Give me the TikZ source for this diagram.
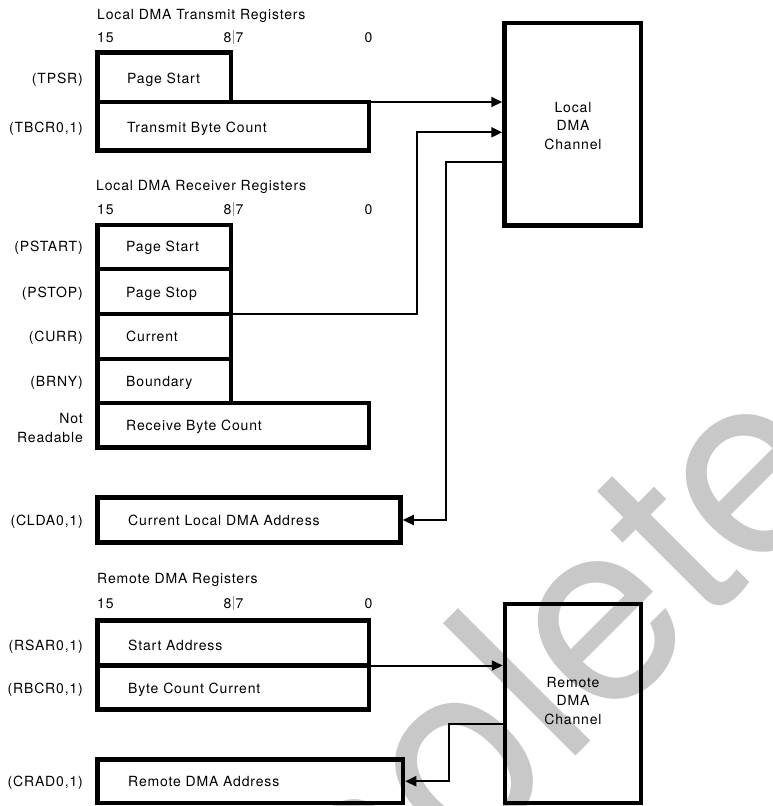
\documentclass[tikz,border=0pt]{standalone}
\usepackage{fontspec}
\setmainfont{TeX Gyre Heros}
\newfontfamily\dfont[LetterSpace=6]{TeX Gyre Heros}
\newfontfamily\wmfont{TeX Gyre Heros}
\usetikzlibrary{arrows.meta}
\definecolor{wmgray}{RGB}{200,200,200}
\definecolor{bargray}{RGB}{150,150,150}
\begin{document}
\begin{tikzpicture}[x=1pt,y=-1pt,
  reg/.style={draw, line width=4.5pt, inner sep=0pt, outer sep=0pt},
  tgt/.style={draw, line width=4.5pt, inner sep=0pt, outer sep=2.25pt},
  chan/.style={draw, line width=4.5pt, inner sep=0pt, outer sep=2.25pt},
  txt/.style={font=\dfont\fontsize{14}{17}\selectfont, inner sep=0pt, text height=10pt, text depth=0pt},
  ctxt/.style={font=\dfont\fontsize{14}{18.5}\selectfont, inner sep=0pt, align=center},
  bar/.style={draw=bargray, line width=0.8pt},
  arr/.style={line width=2pt, -{Triangle[length=11pt,width=10pt]}},
  wmark/.style={font=\wmfont\fontsize{257}{257}\selectfont, text=wmgray, inner sep=0pt, rotate=45, anchor=base west}
]
\useasboundingbox (0,0) rectangle (772,806);
\begin{scope}
  \clip (0,0) rectangle (772,806);
  \node[wmark] (wm) at (129,1203) {Obsolete};
\end{scope}

% ---------- Local DMA Transmit Registers
\node[txt, anchor=west] (tt) at (97,14) {Local DMA Transmit Registers};
\node[txt, anchor=west] (ta15) at (97,37) {15};
\node[txt, anchor=east] (ta8) at (231.5,37) {8};
\node[txt, anchor=west] (ta7) at (235.5,37) {7};
\node[txt] (ta0) at (368.5,37) {0};
\draw[bar] (233.5,30) -- (233.5,44);

\node[reg, minimum width=133.5pt, minimum height=49.5pt] (tpsr) at (164.25,77.25) {};
\node[reg, minimum width=271.5pt, minimum height=48.5pt] (tbcr) at (233.25,126.25) {};
\node[txt, anchor=east] (ltpsr) at (83,78) {(TPSR)};
\node[txt, anchor=east] (ltbcr) at (83,127) {(TBCR0,1)};
\node[txt, anchor=west] (xtpsr) at (127,78) {Page Start};
\node[txt, anchor=west] (xtbcr) at (127,127) {Transmit Byte Count};

% ---------- Local DMA Receiver Registers
\node[txt, anchor=west] (rt) at (96,185) {Local DMA Receiver Registers};
\node[txt, anchor=west] (ra15) at (97,209) {15};
\node[txt, anchor=east] (ra8) at (231.5,209) {8};
\node[txt, anchor=west] (ra7) at (235.5,209) {7};
\node[txt] (ra0) at (368.5,209) {0};
\draw[bar] (233.5,202) -- (233.5,216);

\node[reg, minimum width=133.5pt, minimum height=44pt] (pstart) at (164.25,247) {};
\node[reg, minimum width=133.5pt, minimum height=45pt] (pstop) at (164.25,291.5) {};
\node[reg, minimum width=133.5pt, minimum height=45pt] (curr) at (164.25,336.5) {};
\node[reg, minimum width=133.5pt, minimum height=44pt] (brny) at (164.25,381) {};
\node[reg, minimum width=271.5pt, minimum height=44.5pt] (rbc) at (233.25,425.25) {};
\node[txt, anchor=east] (lpstart) at (83,246) {(PSTART)};
\node[txt, anchor=east] (lpstop) at (83,292) {(PSTOP)};
\node[txt, anchor=east] (lcurr) at (83,336) {(CURR)};
\node[txt, anchor=east] (lbrny) at (83,381) {(BRNY)};
\node[txt, anchor=east] (lnot) at (83,418) {Not};
\node[txt, anchor=east] (lread) at (83,437) {Readable};
\node[txt, anchor=west] (xpstart) at (126,246) {Page Start};
\node[txt, anchor=west] (xpstop) at (126,292) {Page Stop};
\node[txt, anchor=west] (xcurr) at (126,336) {Current};
\node[txt, anchor=west] (xbrny) at (126,381) {Boundary};
\node[txt, anchor=west] (xrbc) at (126,425) {Receive Byte Count};

% ---------- Current Local DMA Address
\node[tgt, minimum width=303pt, minimum height=45pt] (clda) at (249,520) {};
\node[txt, anchor=east] (lclda) at (83,520) {(CLDA0,1)};
\node[txt, anchor=west] (xclda) at (128,520) {Current Local DMA Address};

% ---------- Remote DMA Registers
\node[txt, anchor=west] (mt) at (97,578) {Remote DMA Registers};
\node[txt, anchor=west] (ma15) at (97,603) {15};
\node[txt, anchor=east] (ma8) at (231.5,603) {8};
\node[txt, anchor=west] (ma7) at (235.5,603) {7};
\node[txt] (ma0) at (368.5,603) {0};
\draw[bar] (233.5,596) -- (233.5,610);

\node[reg, minimum width=271.5pt, minimum height=45pt] (rsar) at (233.25,643) {};
\node[reg, minimum width=271.5pt, minimum height=44pt] (rbcr) at (233.25,687.5) {};
\node[txt, anchor=east] (lrsar) at (83,645) {(RSAR0,1)};
\node[txt, anchor=east] (lrbcr) at (83,688) {(RBCR0,1)};
\node[txt, anchor=west] (xrsar) at (128,645) {Start Address};
\node[txt, anchor=west] (xrbcr) at (128,688) {Byte Count Current};

\node[tgt, minimum width=305.5pt, minimum height=43.5pt] (crad) at (250.25,781.25) {};
\node[txt, anchor=east] (lcrad) at (83,781) {(CRAD0,1)};
\node[txt, anchor=west] (xcrad) at (128,781) {Remote DMA Address};

% ---------- Channels
\node[chan, minimum width=136.5pt, minimum height=202.5pt] (ldma) at (572.75,124.25) {};
\node[ctxt] (xldma) at (573,126) {Local\\DMA\\Channel};
\node[chan, minimum width=136pt, minimum height=199pt] (rdma) at (573,703.5) {};
\node[ctxt] (xrdma) at (573,701) {Remote\\DMA\\Channel};

% ---------- Connectors
\coordinate (j1) at (417,132.3);
\coordinate (j2) at (446,161.7);
\coordinate (j3) at (449,724);
\draw[arr] (tpsr.south east) -- (tpsr.south east -| ldma.west);
\draw[arr] (pstop.south east) -| (j1) -- (j1 -| ldma.west);
\draw[arr] (j2 -| ldma.west) -| (j2 |- clda.east) -- (clda.east);
\draw[arr] (rsar.south east) -- (rsar.south east -| rdma.west);
\draw[arr] (j3 -| rdma.west) -| (j3 |- crad.east) -- (crad.east);
\end{tikzpicture}
\end{document}
